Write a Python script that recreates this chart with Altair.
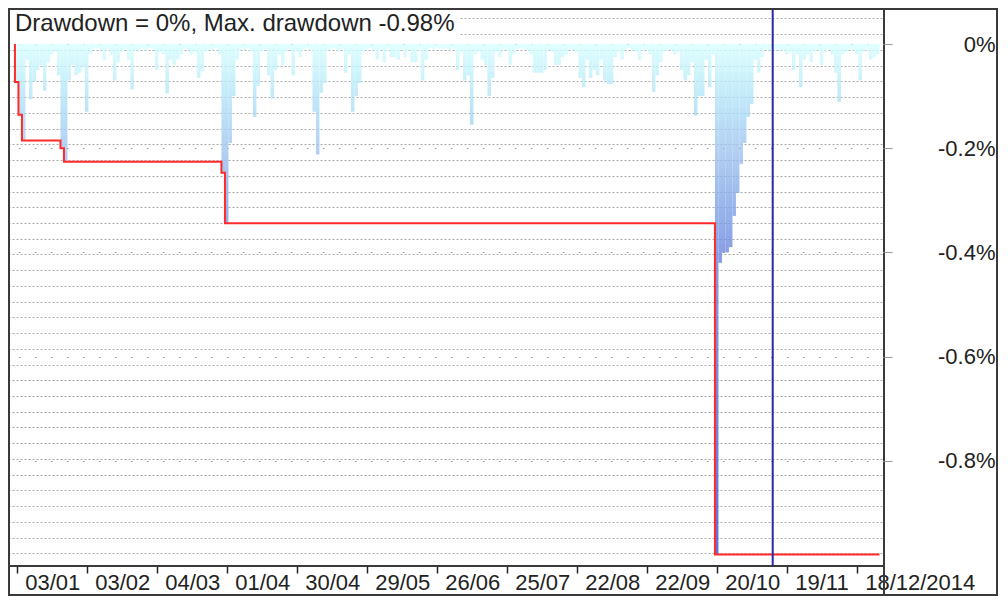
import altair as alt
import pandas as pd
import numpy as np

# ---------------- data ----------------
title_text = "Drawdown = 0%, Max. drawdown -0.98%"
tick_labels = ["03/01", "03/02", "04/03", "01/04", "30/04", "29/05", "26/06",
               "25/07", "22/08", "22/09", "20/10", "19/11", "18/12/2014"]
tick_step = 20          # one label every 20 trading days
cursor_index = [216]    # vertical cursor line (trading-day index)

# daily drawdown, percent (trading-day index 0 .. 246)
drawdown = [
    -0.073, -0.136, -0.185, -0.03, -0.106, -0.072, -0.05, -0.04, -0.09, -0.035,
    -0.02, -0.015, -0.06, -0.2, -0.226, -0.07, -0.04, -0.06, -0.055, -0.045,
    -0.13, -0.02, -0.01, -0.008, -0.012, -0.03, -0.01, -0.02, -0.07, -0.035,
    -0.015, -0.01, -0.03, -0.087, -0.012, -0.015, -0.008, -0.012, -0.008, -0.01,
    -0.05, -0.015, -0.02, -0.095, -0.03, -0.04, -0.03, -0.02, -0.01, -0.012,
    -0.02, -0.015, -0.065, -0.052, -0.015, -0.01, -0.012, -0.008, -0.02, -0.247,
    -0.344, -0.19, -0.1, -0.03, -0.01, -0.012, -0.008, -0.015, -0.14, -0.08,
    -0.015, -0.01, -0.06, -0.105, -0.05, -0.02, -0.04, -0.015, -0.01, -0.06,
    -0.015, -0.025, -0.01, -0.008, -0.012, -0.13, -0.212, -0.094, -0.075, -0.012,
    -0.01, -0.008, -0.015, -0.01, -0.055, -0.02, -0.13, -0.1, -0.075, -0.015,
    -0.01, -0.008, -0.012, -0.03, -0.01, -0.035, -0.01, -0.025, -0.025, -0.03,
    -0.01, -0.025, -0.012, -0.035, -0.035, -0.01, -0.07, -0.03, -0.008, -0.01,
    -0.006, -0.008, -0.01, -0.008, -0.012, -0.01, -0.05, -0.015, -0.07, -0.06,
    -0.155, -0.02, -0.015, -0.03, -0.04, -0.1, -0.065, -0.015, -0.025, -0.01,
    -0.012, -0.04, -0.02, -0.01, -0.008, -0.01, -0.012, -0.02, -0.055, -0.055,
    -0.055, -0.05, -0.012, -0.015, -0.04, -0.04, -0.025, -0.02, -0.01, -0.012,
    -0.015, -0.065, -0.083, -0.03, -0.065, -0.05, -0.06, -0.03, -0.07, -0.077,
    -0.077, -0.025, -0.015, -0.03, -0.01, -0.008, -0.012, -0.015, -0.03, -0.01,
    -0.012, -0.02, -0.092, -0.06, -0.035, -0.015, -0.01, -0.012, -0.02, -0.015,
    -0.05, -0.07, -0.06, -0.035, -0.137, -0.1, -0.1, -0.03, -0.083, -0.02,
    -0.98, -0.42, -0.40, -0.40, -0.39, -0.33, -0.286, -0.23, -0.19, -0.14,
    -0.115, -0.03, -0.055, -0.025, -0.01, -0.012, -0.008, -0.01, -0.015, -0.012,
    -0.02, -0.015, -0.05, -0.02, -0.083, -0.03, -0.02, -0.035, -0.015, -0.012,
    -0.04, -0.015, -0.01, -0.02, -0.055, -0.111, -0.02, -0.015, -0.01, -0.012,
    -0.02, -0.07, -0.015, -0.01, -0.03, -0.025, -0.02,
]

# ---------------- geometry / styling ----------------
W, H = 876, 558
PAD_R, PAD_B = 114, 30
PX_PER_PCT = 521.0
ZERO_PX = 36.0
y_dom = [-(H - ZERO_PX) / PX_PER_PCT, ZERO_PX / PX_PER_PCT]
x_dom = [(8 - 16.7) / 3.5, (884 - 16.7) / 3.5]
FONT = "Liberation Sans"

xscale = alt.Scale(domain=x_dom, nice=False, zero=False)
yscale = alt.Scale(domain=y_dom, nice=False, zero=False)

# bars split into 4px bands so colour follows absolute depth (vertical gradient)
band = 4.0 / PX_PER_PCT
rows = []
for i, v in enumerate(drawdown):
    k = 0
    while -k * band > v + 1e-12:
        top = -k * band
        bot = max(v, -(k + 1) * band)
        rows.append({"x": i - 0.5, "x2": i + 0.5, "y": top, "y2": bot,
                     "c": (top + bot) / 2})
        k += 1
seg = pd.DataFrame(rows)

n = len(drawdown)
cm = np.minimum.accumulate(np.array(drawdown))
red = pd.DataFrame({
    "x": [-0.5] + [i - 0.5 for i in range(n)] + [n - 0.5],
    "y": [0.0] + list(cm) + [cm[-1]],
    "k": list(range(n + 2)),
})

minor_grid = [(ZERO_PX - 10.5 - 15.73 * k) / PX_PER_PCT for k in range(35)]
label_js = "[" + ",".join("'%s'" % s for s in tick_labels) + "]"

x_axis = alt.Axis(
    values=[tick_step * j for j in range(len(tick_labels))],
    labelExpr=label_js + "[round(datum.value/%d)]" % tick_step,
    orient="bottom", title=None, domain=False, grid=False,
    ticks=True, tickSize=7, tickWidth=1.5, tickColor="#222",
    labelAlign="left", labelBaseline="middle", labelPadding=9, labelOffset=8,
    labelFont=FONT, labelFontSize=22, labelColor="#222",
    labelOverlap=False, labelFlush=False, labelBound=False,
)

y_axis = alt.Axis(
    values=[0, -0.2, -0.4, -0.6, -0.8], orient="right", title=None,
    labelExpr="datum.value == 0 ? '0%' : '-' + format(abs(datum.value), '.1f') + '%'",
    domain=False, ticks=True, tickSize=8, tickColor="#999", tickWidth=1,
    labelAlign="right", labelBaseline="middle", labelPadding=103,
    labelFont=FONT, labelFontSize=22, labelColor="#222",
    grid=True, gridColor="#8a8a8a", gridDash=[1.5, 14.5], gridWidth=1,
    labelOverlap=False, labelFlush=False, labelBound=False,
)

y_axis_minor = alt.Axis(
    values=minor_grid, orient="left", title=None, labels=False, ticks=False,
    domain=False, grid=True, gridColor="#a8a8a8", gridDash=[2, 2], gridWidth=1,
)

bars = alt.Chart(seg).mark_rect(opacity=0.8, strokeWidth=0).encode(
    x=alt.X("x:Q", scale=xscale, axis=x_axis),
    x2="x2:Q",
    y=alt.Y("y:Q", scale=yscale, axis=y_axis),
    y2="y2:Q",
    color=alt.Color("c:Q", legend=None, scale=alt.Scale(
        domain=[-1.0, -0.42, -0.2, 0.0],
        range=["#374ccc", "#6a80db", "#a1c4ef", "#d8ffff"])),
)

redline = alt.Chart(red).mark_line(
    interpolate="step-after", color="#ff2a2a", strokeWidth=2
).encode(
    x=alt.X("x:Q", scale=xscale, axis=x_axis),
    y=alt.Y("y:Q", scale=yscale, axis=y_axis_minor),
    order=alt.Order("k:Q"),
)

cursor = alt.Chart(pd.DataFrame({"x": cursor_index})).mark_rule(
    color="#2828a8", strokeWidth=2
).encode(x=alt.X("x:Q", scale=xscale, axis=x_axis))

tdf = pd.DataFrame({"t": [title_text]})
title_box = alt.Chart(tdf).mark_rect(fill="white", strokeWidth=0).encode(
    x=alt.value(1), x2=alt.value(452), y=alt.value(1), y2=alt.value(32))
title_mark = alt.Chart(tdf).mark_text(
    align="left", baseline="alphabetic", font=FONT, fontSize=24, color="#222"
).encode(x=alt.value(7), y=alt.value(23), text="t:N")

frame = alt.Chart(tdf).mark_rect(
    fillOpacity=0, stroke="#3a3a3a", strokeWidth=2
).encode(x=alt.value(1), x2=alt.value(W + PAD_R - 1),
         y=alt.value(1), y2=alt.value(H + PAD_B - 1))
frame_v = alt.Chart(tdf).mark_rule(color="#3a3a3a", strokeWidth=2).encode(
    x=alt.value(W), y=alt.value(H), y2=alt.value(H + PAD_B))

chart = alt.layer(
    bars, redline, cursor, title_box, title_mark, frame, frame_v
).resolve_axis(y="independent").properties(
    width=W, height=H,
    autosize=alt.AutoSizeParams(type="none"),
    padding={"left": 0, "top": 0, "right": PAD_R, "bottom": PAD_B},
    background="white",
).configure_view(stroke="#3a3a3a", strokeWidth=2)

chart.save("out.html", embed_options={"renderer": "svg", "actions": False})
